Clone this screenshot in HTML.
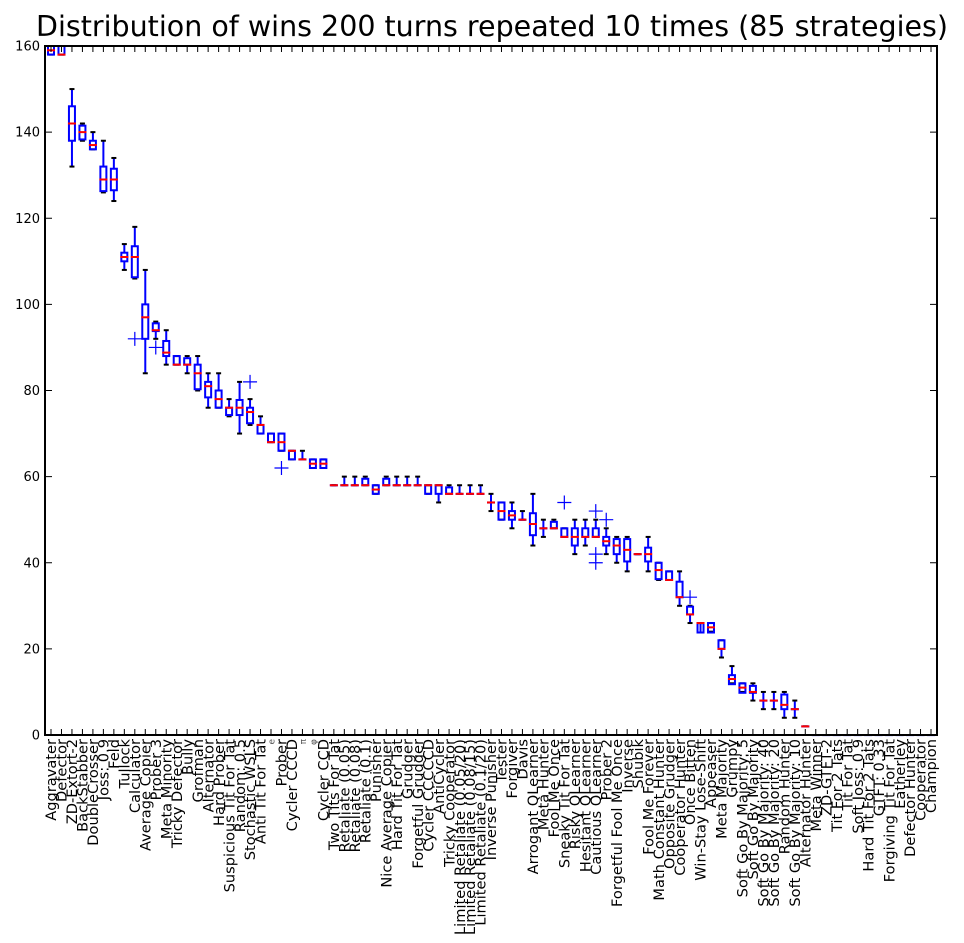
<!DOCTYPE html>
<html><head><meta charset="utf-8"><style>
html,body{margin:0;padding:0;background:#fff;}
svg{display:block;font-family:"DejaVu Sans","Liberation Sans",sans-serif;}
</style></head><body>
<svg id="chart" width="964" height="943" viewBox="0 0 964 943" xmlns="http://www.w3.org/2000/svg">
<text x="492" y="36" font-size="28.5" text-anchor="middle" fill="#000">Distribution of wins 200 turns repeated 10 times (85 strategies)</text>
<g id="plot"></g>
</svg>
<script>
const names=["Aggravater","Defector","ZD-Extort-2","BackStabber","DoubleCrosser","Joss: 0.9","Feld","Tullock","Calculator","Average Copier","Prober 3","Meta Minority","Tricky Defector","Bully","Grofman","Alternator","Hard Prober","Suspicious Tit For Tat","Random: 0.5","Stochastic WSLS","Anti Tit For Tat","e","Prober","Cycler CCCD","π","φ","Cycler CCD","Two Tits For Tat","Retaliate (0.05)","Retaliate (0.08)","Retaliate (0.1)","Punisher","Nice Average Copier","Hard Tit For Tat","Grudger","Forgetful Grudger","Cycler CCCCCD","AntiCycler","Tricky Cooperator","Limited Retaliate (0.05/20)","Limited Retaliate (0.08/15)","Limited Retaliate (0.1/20)","Inverse Punisher","Tester","Forgiver","Davis","Arrogant QLearner","Meta Hunter","Fool Me Once","Sneaky Tit For Tat","Risky QLearner","Hesitant QLearner","Cautious QLearner","Prober 2","Forgetful Fool Me Once","Inverse","Shubik","Fool Me Forever","Math Constant Hunter","Opposite Grudger","Cooperator Hunter","Once Bitten","Win-Stay Lose-Shift","Appeaser","Meta Majority","Grumpy","Soft Go By Majority: 5","Soft Go By Majority","Soft Go By Majority: 40","Soft Go By Majority: 20","Random Hunter","Soft Go By Majority: 10","Alternator Hunter","Meta Winner","ZD-GTFT-2","Tit For 2 Tats","Tit For Tat","Soft Joss: 0.9","Hard Tit For 2 Tats","GTFT: 0.33","Forgiving Tit For Tat","Eatherley","Defector Hunter","Cooperator","Champion"];
const zeros=[0,0,0,0,0,0,0,0,0,0,0,0];
const lows=[158,158,132,138,136,126,124,108,106,84,92,86,86,84,80,76,76,74,70,72,70,68,66,64,64,62,62,58,58,58,58,56,58,58,58,58,56,54,56,56,56,56,52,50,48,50,44,46,48,46,42,44,46,42,40,38,42,38,36,36,30,26,26,24,18,12,10,8,6,6,4,4,2].concat(zeros);
const q1s=[158,158,138,138.3,136,126.3,126.5,110,106.3,92,93.8,88,86,86,80.3,78.4,76,74.3,74.3,72.4,70,68,66,64,64,62,62,58,58,58,58,56,58,58,58,58,56,56,56,56,56,56,54,50,50,50,46.4,48,48,46,44,46,46,44,42,40.3,42,40.3,36.2,36,32,28,23.8,23.8,20,11.8,9.8,9.8,8,8,6,6,2].concat(zeros);
const medians=[159,158,142,140,137,129,129,111,111,97,94,88.8,86,86,84,81,78,76,76,75,72,68,68,66,64,63,63,58,58,58,58,57,58,58,58,58,58,58,56,56,56,56,54,52,51,50,49,48,48,46,46,46,46,45,44,43,42,42,38.3,36,32,28,26,25,20,13,11,10,8,8,7,6,2].concat(zeros);
const q3s=[160,160,146,141.5,138,132,131.5,112,113.5,100,95.6,91.5,88,87.5,86,82,80,76,77.8,76,72,70,70,66,64,64,64,58,58,58,59.5,58,59.5,58,58,58,58,58,57.5,56,56,56,54,54,52,50,51.5,48,49.5,48,48,48,48,46,45.5,45.5,42,43.5,40,38,35.6,29.8,26,26,22,13.9,12,11.4,8,8,9.4,6,2].concat(zeros);
const highs=[160,160,150,142,140,138,134,114,118,108,96,94,88,88,88,84,84,78,82,78,74,70,70,66,66,64,64,58,60,60,60,58,60,60,60,60,58,58,58,58,58,58,56,54,54,52,56,50,50,48,50,50,50,48,46,46,42,46,40,38,38,30,26,26,22,16,12,12,10,10,10,8,2].concat(zeros);
const outlierIdx=[9,11,20,23,50,53,53,53,54,62];
const outlierVal=[92,90,82,62,54,52,42,40,50,32];
const yTicks=[0,20,40,60,80,100,120,140,160];

const NS="http://www.w3.org/2000/svg";
const L=45,R=937,T=46,B=735,YMAX=160;
const g=document.getElementById('plot');
function yS(v){return B-(v/YMAX)*(B-T);}
function xS(i){return 51+i*(880/84);}
function mk(tag,attrs,parent){const e=document.createElementNS(NS,tag);for(const k in attrs)e.setAttribute(k,attrs[k]);(parent||g).appendChild(e);return e;}

names.forEach((n,i)=>{
  const x=xS(i);
  const grp=mk('g',{});
  
  
  mk('line',{x1:x,x2:x,y1:yS(highs[i]),y2:yS(q3s[i]),stroke:'#0000ff','stroke-width':2},grp);
  mk('line',{x1:x,x2:x,y1:yS(q1s[i]),y2:yS(lows[i]),stroke:'#0000ff','stroke-width':2},grp);
  mk('line',{x1:x-2.5,x2:x+2.5,y1:yS(highs[i]),y2:yS(highs[i]),stroke:'#000','stroke-width':2},grp);
  mk('line',{x1:x-2.5,x2:x+2.5,y1:yS(lows[i]),y2:yS(lows[i]),stroke:'#000','stroke-width':2},grp);
  const top=yS(q3s[i]),bot=yS(q1s[i]);
  mk('rect',{x:x-3,y:top,width:6,height:Math.max(bot-top,0.1),fill:'none',stroke:'#0000ff','stroke-width':2},grp);
  mk('line',{x1:x-4,x2:x+4,y1:yS(medians[i]),y2:yS(medians[i]),stroke:'#ff0000','stroke-width':2},grp);
});
outlierIdx.forEach((k,j)=>{
  const x=xS(k-1),y=yS(outlierVal[j]);
  const p=mk('path',{d:`M${x-7},${y}H${x+7}M${x},${y-7}V${y+7}`,stroke:'#0000ff','stroke-width':1.2,fill:'none'});
  
  
});
const fr=mk('rect',{x:L,y:T,width:R-L,height:B-T,fill:'none',stroke:'#000','stroke-width':2});


yTicks.forEach(v=>{
  const y=yS(v);
  mk('line',{x1:L,x2:L+7,y1:y,y2:y,stroke:'#000','stroke-width':1});
  mk('line',{x1:R-7,x2:R,y1:y,y2:y,stroke:'#000','stroke-width':1});
  const t=mk('text',{x:L-5,y:y+4.5,'font-size':13,'text-anchor':'end',fill:'#000'});
  t.textContent=String(v);
  
  
});
names.forEach((n,i)=>{
  const x=xS(i);
  mk('line',{x1:x,x2:x,y1:B,y2:B-6,stroke:'#000','stroke-width':1});
  mk('line',{x1:x,x2:x,y1:T,y2:T+6,stroke:'#000','stroke-width':1});
  const small=n.length===1;
  const t=mk('text',{x:0,y:0,'font-size':small?9:14.6,'text-anchor':'end',fill:small?'#555':'#000',transform:`translate(${x+(small?3.5:5.2)},${B+4}) rotate(-90)`});
  t.textContent=n;
  
  
});
</script>
</body></html>
